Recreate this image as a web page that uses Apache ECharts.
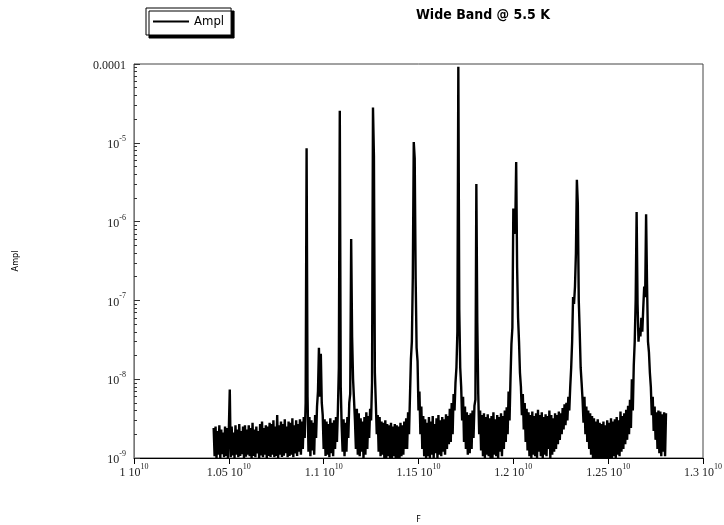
<!DOCTYPE html>
<html><head><meta charset="utf-8">
<script src="https://cdn.jsdelivr.net/npm/echarts@6/dist/echarts.min.js"></script>
<style>html,body{margin:0;padding:0;background:#fff}#c{width:724px;height:525px}</style>
</head><body><div id="c"></div>
<script>
// Frequency grid of the sweep (Hz)
const F_START = 1.042e10;
const F_STEP = 5e6;
// Amplitude values, in units of 1e-9
const AMPL_UNIT = 1e-9;
const amplNano = [
2.4,1.05,2.5,1.0,2.2,1.1,2.6,1.0,2.3,1.12,
2.1,1.02,2.5,1.06,2.4,1.0,2.3,7.4,1.02,2.5,
1.08,2.1,1.0,2.6,1.1,2.3,1.02,2.7,1.06,2.2,
1.12,2.5,1.0,2.6,1.04,2.3,1.1,2.6,1.05,2.4,
1.0,2.8,1.06,2.3,1.02,2.5,1.14,2.2,1.0,2.7,
1.08,2.9,1.02,2.4,1.1,2.6,1.0,2.5,1.06,2.8,
1.03,2.7,1.1,3.0,1.02,2.5,1.06,3.5,1.0,2.6,
1.1,2.9,1.03,2.7,1.07,3.1,1.15,2.5,1.02,2.9,
1.06,2.8,1.1,3.2,1.02,2.6,1.14,3.0,1.06,2.7,
1.2,3.1,1.1,2.9,1.3,3.3,1.8,5.0,8500,6.0,
1.2,3.3,1.05,3.0,1.25,2.8,1.1,3.5,1.8,4.5,
7.0,25,6.0,21,5.0,3.5,1.3,3.1,1.06,2.9,
1.1,2.7,1.02,3.2,1.15,2.8,1.05,3.0,1.3,3.3,
1.6,4.0,14,25500,8.0,2.5,1.2,3.1,1.05,2.8,
1.2,3.3,1.8,5.0,6.5,600,34,10,5.5,3.0,
1.3,4.2,1.1,3.7,1.05,3.2,1.2,2.9,1.0,3.3,
1.1,3.8,1.3,3.4,1.8,4.2,3.0,9.0,28000,6800,
12,5.0,2.0,3.5,1.2,3.3,1.05,2.9,1.1,2.8,
1.0,3.0,1.0,2.7,1.05,2.6,1.0,2.8,1.0,2.5,
1.05,2.7,1.0,2.6,1.0,2.5,1.0,2.8,1.05,2.6,
1.1,2.9,1.3,3.2,1.3,3.8,2.0,6.0,18,30,
200,10200,6300,190,25,17,4.0,7.0,2.0,4.5,
1.3,3.4,1.05,3.1,1.0,2.8,1.05,3.3,1.0,2.9,
1.1,3.4,1.0,2.7,1.15,3.2,1.0,3.5,1.1,3.0,
1.05,3.3,1.2,3.1,1.1,3.6,1.3,3.4,1.5,4.2,
1.6,5.0,2.0,6.5,4.0,9.0,14,40,92000,76,
14,8.0,3.0,6.0,1.6,4.5,1.3,3.8,1.1,3.5,
1.15,3.7,1.3,4.0,1.8,4.6,5.5,3000,52,6.5,
2.0,4.0,1.25,3.5,1.05,3.7,1.0,3.3,1.1,3.6,
1.05,3.2,1.0,3.4,1.0,3.8,1.1,3.1,1.05,3.5,
1.0,3.3,1.2,3.7,1.05,3.4,1.3,4.0,1.6,4.4,
2.0,7.0,3.0,10,28,45,1470,700,820,5700,
260,60,30,12,8.0,3.5,6.5,2.3,5.0,1.6,
4.2,1.25,3.8,1.05,3.5,1.0,3.9,1.1,3.4,1.05,
3.7,1.0,4.1,1.2,3.5,1.05,3.8,1.0,3.3,1.1,
3.6,1.05,3.4,1.3,4.0,1.0,3.5,1.1,3.2,1.2,
3.7,1.3,3.5,1.5,3.9,1.7,3.7,2.0,4.3,2.3,
4.8,2.6,5.0,3.0,6.0,4.0,8.0,14,30,110,
90,150,400,3400,1700,100,40,14,9.0,5.5,
2.8,6.0,2.0,4.5,1.6,4.0,1.3,3.7,1.1,3.4,
1.0,3.2,1.0,2.9,1.0,3.1,1.0,2.8,1.0,2.7,
1.0,2.9,1.0,2.6,1.0,3.0,1.0,2.8,1.0,3.2,
1.0,2.9,1.05,3.1,1.0,3.3,1.1,3.0,1.05,3.9,
1.2,3.4,1.3,3.7,1.5,4.1,1.7,4.6,2.0,5.5,
2.4,10,4.0,15,30,100,1320,90,30,45,
35,60,40,80,150,110,1240,160,30,22,
12,8.0,3.5,6.0,2.2,4.5,1.7,3.8,1.3,4.0,
1.15,3.9,1.05,3.6,1.2,3.8,1.05,3.7
];

// Tick labels
const xTickMantissas = ['1','1.05','1.1','1.15','1.2','1.25','1.3'];
const xTickExponent = '10';
const yTickExponents = [-9,-8,-7,-6,-5,-4];
const yTickBase = ['10','10','10','10','10','0.0001'];
const yTickSup = ['-9','-8','-7','-6','-5',''];
const yMinorTicks = [
2e-9,3e-9,4e-9,5e-9,6e-9,7e-9,8e-9,9e-9,
2e-8,3e-8,4e-8,5e-8,6e-8,7e-8,8e-8,9e-8,
2e-7,3e-7,4e-7,5e-7,6e-7,7e-7,8e-7,9e-7,
2e-6,3e-6,4e-6,5e-6,6e-6,7e-6,8e-6,9e-6,
2e-5,3e-5,4e-5,5e-5,6e-5,7e-5,8e-5,9e-5
];

const seriesData = amplNano.map((v, i) => [F_START + i * F_STEP, v * AMPL_UNIT]);

const SERIF = "'Liberation Serif','DejaVu Serif',serif";
const NARROW = "'Liberation Sans Narrow','DejaVu Sans Condensed','Liberation Sans',sans-serif";

const chart = echarts.init(document.getElementById('c'), null, {renderer: 'canvas'});
chart.setOption({
  animation: false,
  backgroundColor: '#fff',
  title: {
    text: 'Wide Band @ 5.5 K',
    left: 478, top: 3, textAlign: 'center',
    textStyle: {fontFamily: NARROW, fontSize: 14, fontWeight: 'bold', color: '#000'}
  },
  legend: {
    data: [{name: 'Ampl', icon: 'rect'}],
    left: 146, top: 8,
    itemWidth: 36, itemHeight: 2, itemGap: 4,
    padding: [7, 7, 7, 7],
    borderColor: '#000', borderWidth: 1, borderRadius: 0,
    backgroundColor: '#fff',
    shadowColor: '#000', shadowOffsetX: 3, shadowOffsetY: 3, shadowBlur: 0,
    textStyle: {fontFamily: NARROW, fontSize: 13, color: '#000', padding: [0, 0, 0, 0]},
    itemStyle: {color: '#000', borderWidth: 0}
  },
  grid: {left: 134, right: 21, top: 64, bottom: 67, show: true, borderColor: '#444', borderWidth: 1, containLabel: false, outerBoundsMode: 'none'},
  xAxis: {
    type: 'value', min: 1.0e10, max: 1.3e10, interval: 0.05e10,
    name: 'F', nameLocation: 'middle', nameGap: 57,
    nameTextStyle: {fontFamily: NARROW, fontSize: 9, color: '#000'},
    axisLine: {lineStyle: {color: '#000', width: 1}},
    axisTick: {inside: false, length: 6, lineStyle: {color: '#000'}},
    splitLine: {show: false},
    axisLabel: {
      margin: 5,
      formatter: function (v) {
        const idx = Math.round((v - 1.0e10) / 0.05e10);
        return '{b|' + xTickMantissas[idx] + ' 10}{s|' + xTickExponent + '}';
      },
      rich: {
        b: {fontFamily: SERIF, fontSize: 12, color: '#222', lineHeight: 16, verticalAlign: 'bottom'},
        s: {fontFamily: SERIF, fontSize: 8, color: '#222', lineHeight: 9, verticalAlign: 'top'}
      }
    }
  },
  yAxis: [{
    type: 'log', logBase: 10, min: 1e-9, max: 1e-4, splitNumber: 5,
    name: 'Ampl', nameLocation: 'middle', nameGap: 114, nameRotate: 90,
    nameTextStyle: {fontFamily: NARROW, fontSize: 9, color: '#000'},
    axisLine: {lineStyle: {color: '#777', width: 1}},
    axisTick: {inside: true, length: 6, lineStyle: {color: '#333'}},
    splitLine: {show: false},
    axisLabel: {
      margin: 8,
      formatter: function (v) {
        const e = Math.round(Math.log10(v));
        const idx = yTickExponents.indexOf(e);
        if (idx < 0) return '';
        if (!yTickSup[idx]) return '{b|' + yTickBase[idx] + '}';
        return '{b|' + yTickBase[idx] + '}{s|' + yTickSup[idx] + '}';
      },
      rich: {
        b: {fontFamily: SERIF, fontSize: 12, color: '#222', lineHeight: 16, verticalAlign: 'bottom'},
        s: {fontFamily: SERIF, fontSize: 8, color: '#222', lineHeight: 9, verticalAlign: 'top'}
      }
    }
  }, {
    // Minor-tick overlay: same decades as the log axis, in log10 units
    type: 'value', min: yTickExponents[0], max: yTickExponents[yTickExponents.length - 1],
    position: 'left', offset: 0,
    axisLine: {show: false},
    axisLabel: {show: false},
    splitLine: {show: false},
    axisTick: {show: true, inside: true, length: 3, customValues: yMinorTicks.map(Math.log10), lineStyle: {color: '#333'}}
  }],
  series: [{
    name: 'Ampl', type: 'line', yAxisIndex: 0,
    data: seriesData,
    symbol: 'none', showSymbol: false,
    sampling: null,
    lineStyle: {color: '#000', width: 2.4, join: 'miter', miterLimit: 2},
    itemStyle: {color: '#000'},
    clip: true
  }]
});
</script></body></html>
